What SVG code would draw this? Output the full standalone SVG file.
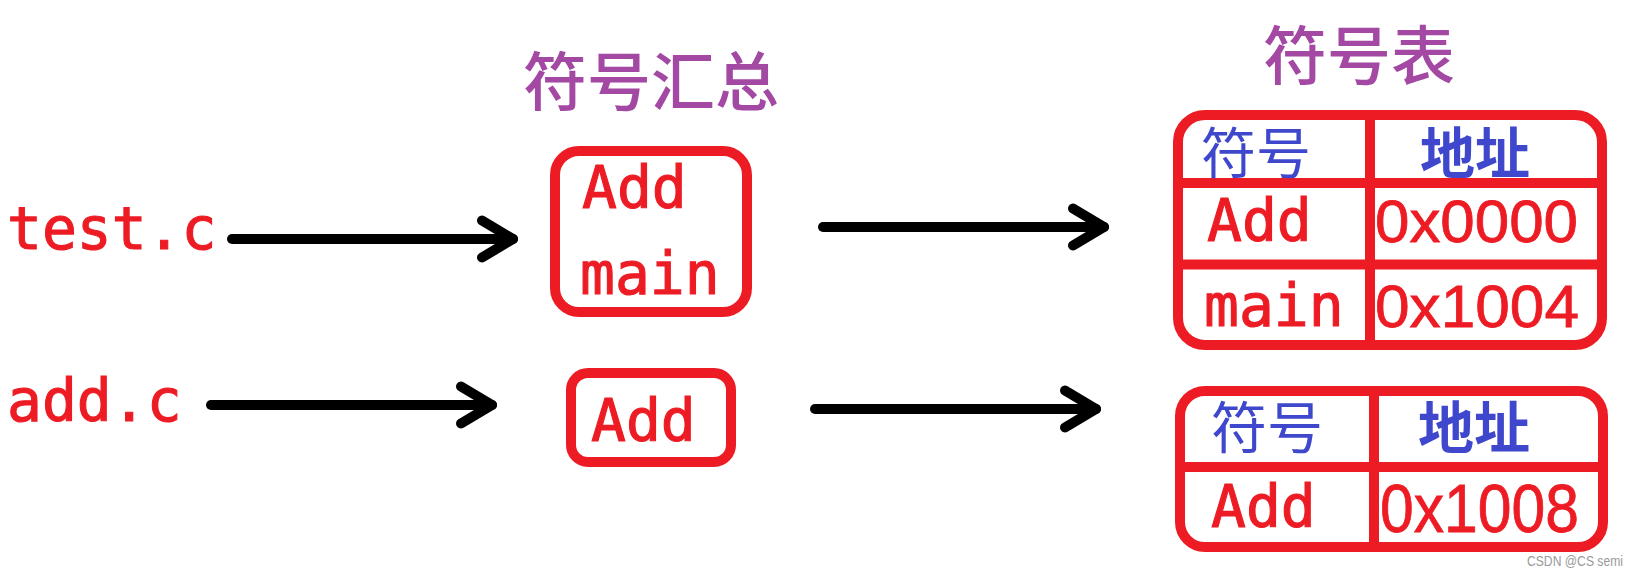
<svg xmlns="http://www.w3.org/2000/svg" width="1638" height="576" viewBox="0 0 1638 576">
<style>
.bg{fill:#ffffff}
.box{fill:none;stroke:#ED1C24;stroke-width:10}
.div{stroke:#ED1C24;stroke-width:10}
.lat{font-family:"DejaVu Sans Mono","Liberation Mono",monospace;font-size:58px;fill:#ED1C24;stroke:#ED1C24;stroke-width:1.1}
.hex{font-family:"Liberation Sans",Arial,sans-serif;font-size:60px;fill:#ED1C24;stroke:#ED1C24;stroke-width:0.8}
.title{font-family:"Noto Sans CJK SC","Noto Sans",sans-serif;font-size:64px;fill:#A349A4;font-weight:500}
.hdr{font-family:"Noto Sans CJK SC","Noto Sans",sans-serif;fill:#3F48CC}
.arr{fill:none;stroke:#000;stroke-width:10;stroke-linecap:round}
.wm{font-family:"Liberation Sans",Arial,sans-serif;font-size:14px;fill:#9a9a9a}
</style>
<defs>
<marker id="chev" markerUnits="userSpaceOnUse" markerWidth="60" markerHeight="60" viewBox="-40 -30 50 60" refX="0" refY="0" orient="auto" overflow="visible">
<path d="M-31,-18.5 L0,0 L-31,18.5" fill="none" stroke="#000" stroke-width="10" stroke-linecap="round" stroke-linejoin="round"/>
</marker>
</defs>
<rect class="bg" x="0" y="0" width="1638" height="576"/>

<g id="test-c">
<text class="lat" x="7" y="249">test.c</text>
</g>
<g id="add-c">
<text class="lat" x="7" y="421">add.c</text>
</g>

<g id="title-summary">
<text class="title" x="523" y="105">符号汇总</text>
</g>
<g id="summary-box-1">
<rect class="box" x="555" y="151" width="192" height="161" rx="24"/>
<text class="lat" x="582" y="208">Add</text>
<text class="lat" x="580" y="294">main</text>
</g>
<g id="summary-box-2">
<rect class="box" x="571" y="373" width="160" height="89" rx="17"/>
<text class="lat" x="591" y="441">Add</text>
</g>

<g id="title-table">
<text class="title" x="1263" y="79">符号表</text>
</g>
<g id="symbol-table-1">
<rect class="box" x="1178" y="115" width="424" height="230" rx="27"/>
<line class="div" x1="1370" y1="115" x2="1370" y2="345"/>
<line class="div" x1="1178" y1="183" x2="1602" y2="183"/>
<line class="div" x1="1178" y1="264.5" x2="1602" y2="264.5"/>
<text class="hdr" x="1201" y="173" font-size="55">符号</text>
<text class="hdr" x="1420" y="173" font-size="55" font-weight="bold">地址</text>
<text class="lat" x="1207" y="241">Add</text>
<text class="hex" x="1375" y="242" textLength="203" lengthAdjust="spacingAndGlyphs">0x0000</text>
<text class="lat" x="1204" y="326">main</text>
<text class="hex" x="1375" y="327" textLength="204" lengthAdjust="spacingAndGlyphs">0x1004</text>
</g>
<g id="symbol-table-2">
<rect class="box" x="1180" y="391" width="423" height="156" rx="25"/>
<line class="div" x1="1374" y1="391" x2="1374" y2="547"/>
<line class="div" x1="1180" y1="467" x2="1603" y2="467"/>
<text class="hdr" x="1211" y="448" font-size="56">符号</text>
<text class="hdr" x="1418" y="448" font-size="56" font-weight="bold">地址</text>
<text class="lat" x="1211" y="527">Add</text>
<text class="hex" x="1380" y="532" style="font-size:68px" textLength="199" lengthAdjust="spacingAndGlyphs">0x1008</text>
</g>

<g id="connectors">
<line class="arr" x1="232" y1="239" x2="513" y2="239" marker-end="url(#chev)"/>
<line class="arr" x1="211" y1="405" x2="492" y2="405" marker-end="url(#chev)"/>
<line class="arr" x1="823" y1="227" x2="1104" y2="227" marker-end="url(#chev)"/>
<line class="arr" x1="815" y1="409" x2="1096" y2="409" marker-end="url(#chev)"/>
</g>

<text class="wm" x="1527" y="566" textLength="96" lengthAdjust="spacingAndGlyphs">CSDN @CS semi</text>
</svg>
